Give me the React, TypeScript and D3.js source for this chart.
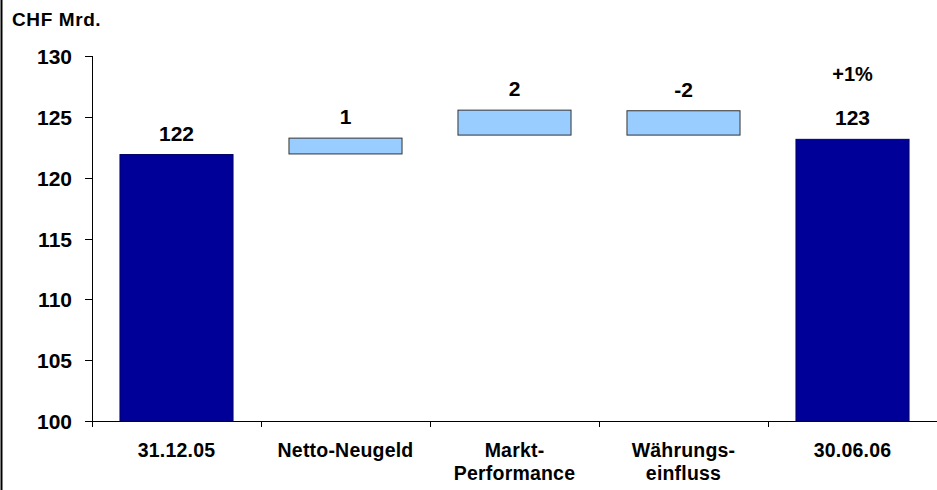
import React from "react";
import * as d3 from "d3";

const categories = ["31.12.05", "Netto-Neugeld", "Markt-\nPerformance", "Währungs-\neinfluss", "30.06.06"];
const barLow = [100, 121.95, 123.5, 123.5, 100];
const barHigh = [121.9, 123.25, 125.55, 125.5, 123.15];
const barLabels = ["122", "1", "2", "-2", "123"];
const totalFlags = [true, false, false, false, true];
const yTicks = [100, 105, 110, 115, 120, 125, 130];
const changeNote = "+1%";
const unitLabel = "CHF Mrd.";

const W = 937, H = 490;
const left = 92, right = 937, top = 56, bottom = 421;
const font = "'Liberation Sans', Arial, sans-serif";

export default function App() {
  const x = d3.scaleBand<string>().domain(categories).range([left, right]).paddingInner(0.331).paddingOuter(0.1655);
  const y = d3.scaleLinear().domain([100, 130]).range([bottom, top]);
  const step = x.step();
  return (
    <svg width={W} height={H} style={{ position: "absolute", left: 0, top: 0 }} fontFamily={font}>
      <rect x={0} y={0} width={W} height={H} fill="#fff" />
      <line x1={1.5} x2={1.5} y1={0} y2={H} stroke="#000" strokeWidth={2} />
      <text x={12} y={26} fontSize={19} fontWeight="bold" letterSpacing={0.6}>{unitLabel}</text>
      {/* y axis */}
      <line x1={left + 0.5} x2={left + 0.5} y1={top} y2={bottom} stroke="#000" />
      {yTicks.map((t) => (
        <g key={t}>
          <line x1={left - 7} x2={left} y1={Math.round(y(t)) + 0.5} y2={Math.round(y(t)) + 0.5} stroke="#000" />
          <text x={72} y={y(t) + 8} textAnchor="end" fontSize={21} fontWeight="bold">{t}</text>
        </g>
      ))}
      {/* x axis */}
      <line x1={left} x2={right} y1={bottom + 0.5} y2={bottom + 0.5} stroke="#000" />
      {categories.map((c, i) => (
        <line key={"t" + i} x1={left + step * i + 0.5} x2={left + step * i + 0.5} y1={bottom} y2={bottom + 6} stroke="#000" />
      ))}
      {categories.map((c, i) => {
        const bx = x(c)!;
        const y0 = y(barHigh[i]);
        const y1 = y(barLow[i]);
        const cx = bx + x.bandwidth() / 2;
        return (
          <g key={c}>
            <rect x={bx} y={y0} width={x.bandwidth()} height={y1 - y0}
              fill={totalFlags[i] ? "#000099" : "#99CCFF"} stroke={totalFlags[i] ? "#000066" : "#333"} strokeWidth={1} />
            <text x={cx} y={y0 - 14} textAnchor="middle" fontSize={21} fontWeight="bold">{barLabels[i]}</text>
            {c.split("\n").map((line, j) => (
              <text key={j} x={cx} y={457 + j * 23} textAnchor="middle" fontSize={19.5} fontWeight="bold" letterSpacing={0.2}>{line}</text>
            ))}
          </g>
        );
      })}
      <text x={x(categories[4])! + x.bandwidth() / 2} y={81} textAnchor="middle" fontSize={20} fontWeight="bold">{changeNote}</text>
    </svg>
  );
}
